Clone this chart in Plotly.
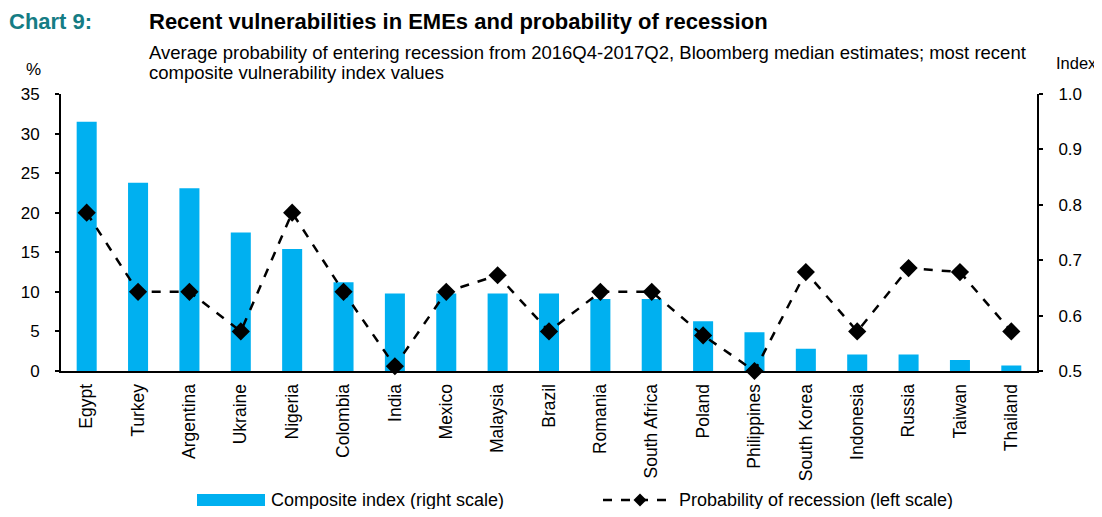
import plotly.graph_objects as go

countries = ["Egypt", "Turkey", "Argentina", "Ukraine", "Nigeria", "Colombia", "India",
             "Mexico", "Malaysia", "Brazil", "Romania", "South Africa", "Poland",
             "Philippines", "South Korea", "Indonesia", "Russia", "Taiwan", "Thailand"]
composite_index = [0.95, 0.84, 0.83, 0.75, 0.72, 0.66, 0.64, 0.64, 0.64, 0.64,
                   0.63, 0.63, 0.59, 0.57, 0.54, 0.53, 0.53, 0.52, 0.51]
recession_prob = [20, 10, 10, 5, 20, 10, 0.6, 10, 12.1, 5, 10, 10, 4.5, 0,
                  12.5, 5, 13, 12.5, 5]

# page body has an 8px margin; figure is sized/offset to compensate
OFF = 8
W, H = 1102 - OFF, 517 - 2 * OFF
L, R, T, B = 61, 1037, 94, 371   # plot area in page pixels

def px(x):
    return (x - L) / (R - L)

def py(y):
    return (B - y) / (B - T)

FONT = "Liberation Sans, Arial, sans-serif"

fig = go.Figure()
fig.add_trace(go.Bar(
    x=countries, y=composite_index, yaxis="y",
    marker=dict(color="#00B0F0", line=dict(width=0)),
    name="Composite index (right scale)", showlegend=False,
))
fig.add_trace(go.Scatter(
    x=countries, y=recession_prob, yaxis="y2", mode="lines+markers",
    line=dict(color="black", width=2.5, dash="dash"),
    marker=dict(symbol="diamond", size=14, color="black"),
    cliponaxis=False,
    name="Probability of recession (left scale)", showlegend=False,
))

fig.update_layout(
    width=W, height=H,
    margin=dict(l=L - OFF, r=W - (R - OFF), t=T - OFF, b=H - (B - OFF), pad=0),
    paper_bgcolor="white", plot_bgcolor="white",
    font=dict(family=FONT, color="black", size=17),
    bargap=0.61,
    xaxis=dict(
        range=[-0.5, len(countries) - 0.5],
        showline=True, linecolor="black", linewidth=2, ticks="",
        tickangle=-90, tickfont=dict(size=17.5), showgrid=False,
        ticklabelstandoff=4,
    ),
    yaxis=dict(
        side="right", range=[0.5, 1.0], dtick=0.1, tickformat=".1f",
        showline=True, linecolor="black", linewidth=2, ticks="outside",
        ticklen=4, tickwidth=1.5, tickcolor="black", showgrid=False,
        zeroline=False, tickfont=dict(size=17), ticklabelstandoff=12,
    ),
    yaxis2=dict(
        side="left", overlaying="y", range=[0, 35], dtick=5,
        showline=True, linecolor="black", linewidth=2, ticks="outside",
        ticklen=4, tickwidth=1.5, tickcolor="black", showgrid=False,
        zeroline=False, tickfont=dict(size=17), ticklabelstandoff=12,
    ),
    showlegend=False,
)

ann = [
    dict(text="<b>Chart 9:</b>", x=px(7), y=py(21), xanchor="left", yanchor="middle",
         font=dict(size=22, color="#157C84")),
    dict(text="<b>Recent vulnerabilities in EMEs and probability of recession</b>",
         x=px(147), y=py(21), xanchor="left", yanchor="middle",
         font=dict(size=22, color="black")),
    dict(text="Average probability of entering recession from 2016Q4-2017Q2, Bloomberg median estimates; most recent",
         x=px(147), y=py(52), xanchor="left", yanchor="middle",
         font=dict(size=18.5, color="black")),
    dict(text="composite vulnerability index values",
         x=px(147), y=py(72), xanchor="left", yanchor="middle",
         font=dict(size=18.5, color="black")),
    dict(text="%", x=px(24), y=py(69), xanchor="left", yanchor="middle",
         font=dict(size=17)),
    dict(text="Index", x=px(1054), y=py(63), xanchor="left", yanchor="middle",
         font=dict(size=16.5)),
    dict(text="Composite index (right scale)", x=px(269), y=py(500), xanchor="left",
         yanchor="middle", font=dict(size=18)),
    dict(text="Probability of recession (left scale)", x=px(677), y=py(500), xanchor="left",
         yanchor="middle", font=dict(size=18)),
]
for a in ann:
    a.update(xref="paper", yref="paper", showarrow=False)
fig.update_layout(annotations=ann)

cx, cy, d = 640, 500, 6.5
fig.update_layout(shapes=[
    dict(type="rect", xref="paper", yref="paper", x0=px(197), x1=px(265),
         y0=py(494), y1=py(506), fillcolor="#00B0F0", line=dict(width=0)),
    dict(type="line", xref="paper", yref="paper", x0=px(603), x1=px(674),
         y0=py(cy), y1=py(cy), line=dict(color="black", width=2.5, dash="dash")),
    dict(type="path", xref="paper", yref="paper",
         path=f"M {px(cx)} {py(cy-d)} L {px(cx+d)} {py(cy)} L {px(cx)} {py(cy+d)} L {px(cx-d)} {py(cy)} Z",
         fillcolor="black", line=dict(width=0)),
])

fig.write_html("out.html")
